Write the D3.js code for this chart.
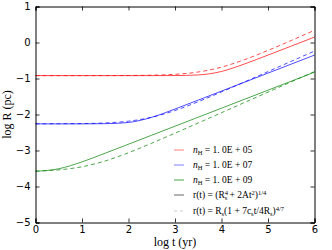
<!DOCTYPE html>
<html>
<head>
<meta charset="utf-8">
<script src="https://cdn.jsdelivr.net/npm/d3@7"></script>
<style>
body { margin: 0; background: #fff; }
svg text { fill: #000; }
</style>
</head>
<body>
<div id="chart"></div>
<script>
// log t (yr) sample points
var logT = [0, 0.5, 1, 1.5, 2, 2.5, 3, 3.5, 4, 4.5, 5, 5.5, 6];

// log R (pc)
var r05Solid = [-0.92, -0.92, -0.92, -0.92, -0.92, -0.92, -0.918, -0.901, -0.804, -0.594, -0.349, -0.100, 0.150];
var r05Dash  = [-0.92, -0.92, -0.92, -0.919, -0.916, -0.908, -0.884, -0.819, -0.684, -0.475, -0.219, 0.056, 0.339];
var r07Solid = [-2.26, -2.26, -2.26, -2.255, -2.221, -2.078, -1.848, -1.600, -1.350, -1.100, -0.850, -0.600, -0.350];
var r07Dash  = [-2.259, -2.257, -2.252, -2.234, -2.186, -2.076, -1.889, -1.644, -1.373, -1.092, -0.808, -0.523, -0.237];
var r09Solid = [-3.578, -3.507, -3.316, -3.074, -2.825, -2.575, -2.325, -2.075, -1.825, -1.575, -1.325, -1.075, -0.825];
var r09Dash  = [-3.572, -3.538, -3.452, -3.290, -3.061, -2.797, -2.518, -2.235, -1.950, -1.664, -1.379, -1.093, -0.807];

var xTicks = [0, 1, 2, 3, 4, 5, 6];
var yTicks = [1, 0, -1, -2, -3, -4, -5];

var series = [
    {vals: r05Solid, color: "#ff0000", dash: null},
    {vals: r05Dash,  color: "#ff0000", dash: "4,3"},
    {vals: r07Solid, color: "#0000ff", dash: null},
    {vals: r07Dash,  color: "#0000ff", dash: "4,3"},
    {vals: r09Solid, color: "#008000", dash: null},
    {vals: r09Dash,  color: "#008000", dash: "4,3"}
];

var width = 332, height = 250;
var plotL = 35.5, plotR = 314.5, plotT = 6.5, plotB = 222.5;

var x = d3.scaleLinear().domain([0, 6]).range([plotL, plotR]);
var y = d3.scaleLinear().domain([-5, 1]).range([plotB, plotT]);

var svg = d3.select("#chart").append("svg")
    .attr("width", width)
    .attr("height", height);

// curves
var line = d3.line()
    .x(function(d) { return x(d[0]); })
    .y(function(d) { return y(d[1]); })
    .curve(d3.curveMonotoneX);

var plot = svg.append("g");
series.forEach(function(s) {
    var pts = logT.map(function(t, i) { return [t, s.vals[i]]; });
    plot.append("path")
        .attr("d", line(pts))
        .attr("fill", "none")
        .attr("stroke", s.color)
        .attr("stroke-opacity", 0.7)
        .attr("stroke-width", 1)
        .attr("stroke-dasharray", s.dash);
});

// axes: ticks inward on all four sides
var fmt = function(d) { return d < 0 ? "\u2212" + Math.abs(d) : "" + d; };
var tickFont = "'DejaVu Sans', sans-serif";

var xb = svg.append("g").attr("transform", "translate(0," + plotB + ")")
    .call(d3.axisBottom(x).tickValues(xTicks).tickSize(-4).tickPadding(3).tickFormat(fmt));
var xt = svg.append("g").attr("transform", "translate(0," + plotT + ")")
    .call(d3.axisTop(x).tickValues(xTicks).tickSize(-4).tickFormat(""));
var yl = svg.append("g").attr("transform", "translate(" + plotL + ",0)")
    .call(d3.axisLeft(y).tickValues(yTicks).tickSize(-4).tickPadding(5).tickFormat(fmt));
var yr = svg.append("g").attr("transform", "translate(" + plotR + ",0)")
    .call(d3.axisRight(y).tickValues(yTicks).tickSize(-4).tickFormat(""));

[xb, xt, yl, yr].forEach(function(g) {
    g.select(".domain").attr("stroke", "#000").attr("stroke-width", 1);
    g.selectAll(".tick line").attr("stroke", "#000").attr("stroke-width", 0.8);
    g.selectAll("text").attr("font-family", tickFont).attr("font-size", "10px").attr("fill", "#000");
});

// axis labels
var serif = "'Liberation Serif', 'DejaVu Serif', serif";
svg.append("text")
    .attr("x", (plotL + plotR) / 2)
    .attr("y", 246)
    .attr("text-anchor", "middle")
    .attr("font-family", serif)
    .attr("font-size", "12px")
    .text("log t (yr)");

svg.append("text")
    .attr("transform", "translate(11," + ((plotT + plotB) / 2) + ") rotate(-90)")
    .attr("text-anchor", "middle")
    .attr("font-family", serif)
    .attr("font-size", "12px")
    .text("log R (pc)");

// legend
var legendY = [150, 165, 180, 195, 211];
var legend = svg.append("g").attr("font-family", serif).attr("font-size", "9.5px");

var legendItems = [
    {color: "#ff0000", opacity: 0.5, dash: null, kind: "n", val: "05"},
    {color: "#0000ff", opacity: 0.5, dash: null, kind: "n", val: "07"},
    {color: "#008000", opacity: 0.7, dash: null, kind: "n", val: "09"},
    {color: "#000000", opacity: 0.6, dash: null, kind: "solid"},
    {color: "#000000", opacity: 0.2, dash: "3,3", kind: "dash"}
];

legendItems.forEach(function(it, i) {
    var yy = legendY[i];
    legend.append("line")
        .attr("x1", 174).attr("x2", 184)
        .attr("y1", yy).attr("y2", yy)
        .attr("stroke", it.color)
        .attr("stroke-opacity", it.opacity)
        .attr("stroke-width", 1)
        .attr("stroke-dasharray", it.dash);

    var t = legend.append("text").attr("x", 193).attr("y", yy + 3);
    if (it.kind == "n") {
        t.append("tspan").attr("font-style", "italic").text("n");
        t.append("tspan").attr("font-size", "6.5px").attr("dy", 2).text("H");
        t.append("tspan").attr("dy", -2).text(" = 1. 0E + " + it.val);
    } else if (it.kind == "solid") {
        t.append("tspan").text("r(t) = (R");
        t.append("tspan").attr("font-size", "6.5px").attr("dy", -3.5).text("4");
        t.append("tspan").attr("font-size", "6.5px").attr("dy", 5.5).attr("dx", -3.3).text("s");
        t.append("tspan").attr("dy", -2).text(" + 2At");
        t.append("tspan").attr("font-size", "6.5px").attr("dy", -3.5).text("2");
        t.append("tspan").attr("dy", 3.5).text(")");
        t.append("tspan").attr("font-size", "6.5px").attr("dy", -3.5).text("1/4");
    } else {
        t.append("tspan").text("r(t) = R");
        t.append("tspan").attr("font-size", "6.5px").attr("dy", 2).text("s");
        t.append("tspan").attr("dy", -2).text("(1 + 7c");
        t.append("tspan").attr("font-size", "6.5px").attr("dy", 2).text("s");
        t.append("tspan").attr("dy", -2).text("t/4R");
        t.append("tspan").attr("font-size", "6.5px").attr("dy", 2).text("s");
        t.append("tspan").attr("dy", -2).text(")");
        t.append("tspan").attr("font-size", "6.5px").attr("dy", -3.5).text("4/7");
    }
});
</script>
</body>
</html>
